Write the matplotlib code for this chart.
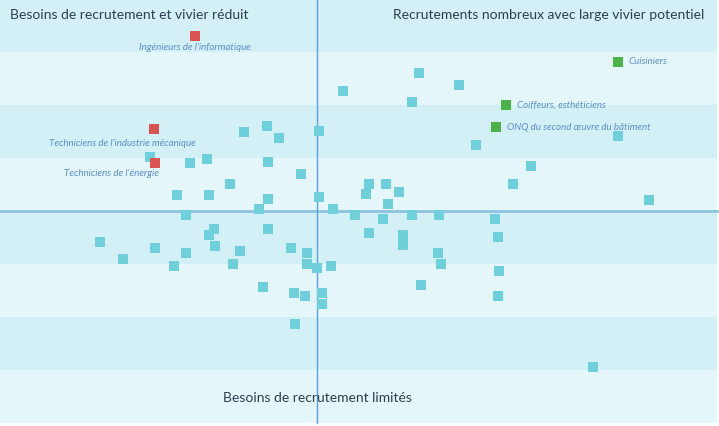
import matplotlib.pyplot as plt

# positions of the professions (x: vivier, y: besoins de recrutement)
other_x = [-3.65, -2.5, -1.9, 0.1, -8.35, -6.35, -5.5, -2.45, -0.8, -4.35, -7.0, -5.4, -2.45, 0.1, -2.9,
           5.1, 7.1, 1.3, 4.75, 15.05, 7.95, 10.7, 2.6, 3.45, 4.1, 2.45, 3.55, 9.8, 16.6, 0.8,
           -6.55, 1.9, 3.3, 4.75, 6.1, 8.9, 2.6, 4.3, 4.3, 9.05, 6.05, 6.2, 5.2, 9.1, 9.05, 13.8,
           -10.85, -9.7, -8.1, -6.55, -7.15, -5.4, -5.15, -5.1, -3.85, -4.2, -2.45, -1.3, -0.5, -0.5,
           0.0, 0.7, -2.7, -1.15, -0.6, 0.25, 0.25, -1.1]
other_y = [3.95, 4.25, 3.65, 4.0, 2.7, 2.4, 2.6, 2.45, 1.85, 1.35, 0.8, 0.8, 0.6, 0.7, 0.1,
           6.9, 6.3, 6.0, 5.45, 3.75, 3.3, 2.25, 1.35, 1.35, 0.95, 0.85, 0.35, 1.35, 0.55, 0.1,
           -0.2, -0.2, -0.4, -0.2, -0.2, -0.4, -1.1, -1.2, -1.7, -1.3, -2.1, -2.65, -3.7, -3.0, -4.25, -7.8,
           -1.55, -2.4, -1.85, -2.1, -2.75, -1.2, -0.9, -1.75, -2.0, -2.65, -0.9, -1.85, -2.1, -2.65,
           -2.85, -2.75, -3.8, -4.1, -4.25, -4.1, -4.65, -5.65]

tension_names = ["Ingénieurs de l'informatique", "Techniciens de l'industrie mécanique",
                 "Techniciens de l'énergie"]
tension_x = [-6.1, -8.15, -8.1]
tension_y = [8.75, 4.1, 2.4]

large_names = ["Cuisiniers", "Coiffeurs, esthéticiens", "ONQ du second œuvre du bâtiment"]
large_x = [15.05, 9.45, 8.95]
large_y = [7.45, 5.3, 4.2]

plt.rcParams['font.family'] = ['Lato', 'DejaVu Sans']

fig = plt.figure(figsize=(7.19, 4.26), dpi=100)
ax = fig.add_axes([0, 0, 1, 1])
ax.set_xlim(-15.85, 20.1)
ax.set_ylim(-10.75, 10.55)
ax.axis('off')

# horizontal bands
step = 2.65
for i in range(-4, 4):
    lo = i * step
    color = '#e4f6fa' if i % 2 == 0 else '#d3f0f7'
    ax.fill_between([-15.85, 20.0], lo, lo + step, color=color, lw=0, zorder=0)

ax.plot([-15.85, 20.0], [0, 0], color='#8cc3df', lw=2, zorder=1)
ax.plot([0, 0], [-10.6, 10.55], color='#5a9fd8', lw=1, zorder=1)

ax.scatter(other_x, other_y, marker='s', s=52, color='#6fd0dc', lw=0, zorder=3)
ax.scatter(tension_x, tension_y, marker='s', s=52, color='#d95350', lw=0, zorder=3)
ax.scatter(large_x, large_y, marker='s', s=52, color='#4db349', lw=0, zorder=3)

label_style = dict(fontsize=7, style='italic', color='#5b8fc7', textcoords='offset pixels',
                   va='center')
offsets = [(0, -12), (-32, -14), (-44, -10)]
for name, x, y, off in zip(tension_names, tension_x, tension_y, offsets):
    ax.annotate(name, (x, y), xytext=off, ha='center', **label_style)
for name, x, y in zip(large_names, large_x, large_y):
    ax.annotate(name, (x, y), xytext=(11, 0), ha='left', **label_style)

title_style = dict(fontsize=10, color='#2d3e50', va='center')
ax.text(-15.35, 9.8, 'Besoins de recrutement et vivier réduit', ha='left', **title_style)
ax.text(19.35, 9.8, 'Recrutements nombreux avec large vivier potentiel', ha='right', **title_style)
ax.text(0, -9.35, 'Besoins de recrutement limités', ha='center', **title_style)

fig.savefig('out.png', dpi=100)
